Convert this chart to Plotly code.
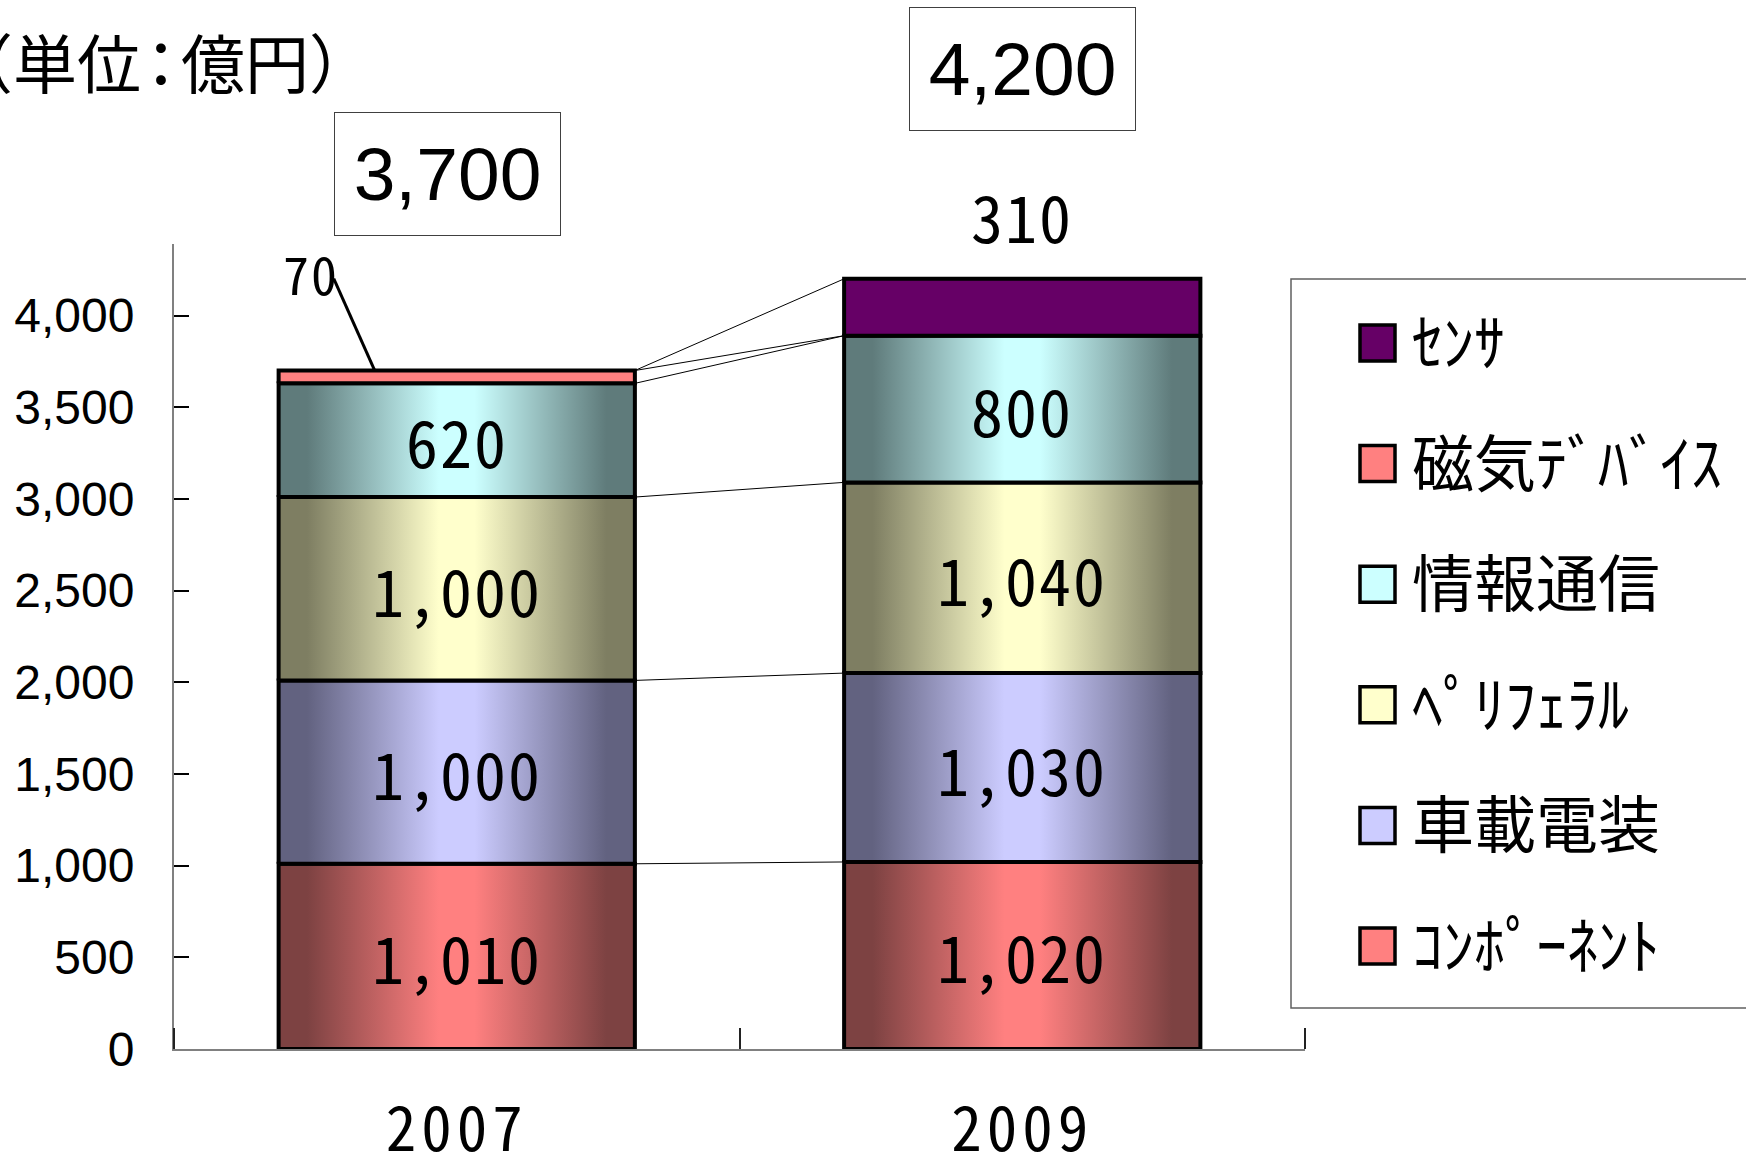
import plotly.graph_objects as go

# ---------------- data ----------------
categories = ["2007", "2009"]
series_names = ["ｺﾝﾎﾟｰﾈﾝﾄ", "車載電装", "ﾍﾟﾘﾌｪﾗﾙ", "情報通信", "磁気ﾃﾞﾊﾞｲｽ", "ｾﾝｻ"]
values_2007 = [1010, 1000, 1000, 620, 70, 0]
values_2009 = [1020, 1030, 1040, 800, 0, 310]
totals = [3700, 4200]
y_tick_values = [0, 500, 1000, 1500, 2000, 2500, 3000, 3500, 4000]
unit_parts = ["（単", "位：", "億円）"]

# ---------------- styles ----------------
light_colors = ["#FF8080", "#CCCCFF", "#FFFFCC", "#CCFFFF", "#FF8080", "#660066"]
dark_colors = ["#7D4242", "#626280", "#7E7E62", "#5F7B7B", None, None]
BAR_W = 0.63
W, H = 1746, 1161
L, R, T, B = 174, 1305, 244, 1049
MONO = "Noto Sans Mono CJK JP, Noto Sans CJK JP, DejaVu Sans Mono, monospace"
CJK = "Noto Sans CJK JP, sans-serif"
SANS = "Liberation Sans, Arial, sans-serif"


def px_x(px):
    return (px - L) / (R - L)


def px_y(py):
    return (B - py) / (B - T)


def spaced(txt, sp=2):
    return f'<span style="letter-spacing:{sp}px">{txt}</span>'


values = [values_2007, values_2009]
fig = go.Figure()

# series lines (connectors between stacked tops)
for si in range(len(series_names)):
    top_a = sum(values[0][: si + 1])
    top_b = sum(values[1][: si + 1])
    fig.add_trace(go.Scatter(
        x=[0 + BAR_W / 2, 1 - BAR_W / 2], y=[top_a, top_b], mode="lines",
        line=dict(color="black", width=1), hoverinfo="skip", showlegend=False))

# stacked segments
for ci, vals in enumerate(values):
    base = 0
    for si, v in enumerate(vals):
        if v > 0:
            x0, x1 = ci - BAR_W / 2, ci + BAR_W / 2
            kw = {}
            if dark_colors[si]:
                d, lc = dark_colors[si], light_colors[si]
                kw["fillgradient"] = dict(
                    type="horizontal",
                    colorscale=[[0, d], [0.08, d], [0.45, lc], [0.55, lc], [0.92, d], [1, d]])
            else:
                kw["fillcolor"] = light_colors[si]
            fig.add_trace(go.Scatter(
                x=[x0, x1, x1, x0, x0], y=[base, base, base + v, base + v, base],
                mode="lines", fill="toself", line=dict(color="black", width=4),
                name=series_names[si], hoverinfo="skip", showlegend=False, **kw))
            if v >= 500:
                fig.add_annotation(x=ci, y=base + v / 2, text=spaced(f"{v:,}"), showarrow=False,
                                   font=dict(family=MONO, size=64, color="black"))
        base += v

# small-value labels
head_x = 0 - BAR_W / 2 + 0.17
fig.add_annotation(x=head_x, y=sum(values_2007), text=spaced(f"{values_2007[4]:,}"),
                   showarrow=False, xshift=-64, yshift=98,
                   font=dict(family=MONO, size=52, color="black"))
fig.add_shape(type="line", xref="x", yref="y", xsizemode="pixel", ysizemode="pixel",
              xanchor=head_x, yanchor=sum(values_2007), x0=-41, x1=0, y0=92, y1=0,
              line=dict(color="black", width=3))
fig.add_annotation(x=1, y=sum(values_2009), text=spaced(f"{values_2009[5]:,}"), showarrow=False,
                   yshift=64, font=dict(family=MONO, size=64, color="black"))

# totals in boxes
total_xshift = [-9, 0]
total_yshift = [197, 210]
for ci, tot in enumerate(totals):
    fig.add_annotation(x=ci, y=tot, text=f"{tot:,}", showarrow=False,
                       xshift=total_xshift[ci], yshift=total_yshift[ci],
                       width=223, height=120, borderpad=1, bordercolor="#404040", borderwidth=1,
                       bgcolor="white", font=dict(family=SANS, size=75, color="black"))

# unit label (tightened spacing around the colon)
unit_text = (unit_parts[0] + f'<span style="letter-spacing:-12px">{unit_parts[1]}</span>'
             + unit_parts[2])
fig.add_annotation(xref="paper", yref="paper", x=px_x(-53), y=px_y(60), xanchor="left",
                   yanchor="middle", text=unit_text, showarrow=False,
                   font=dict(family=CJK, size=64, color="black"))

# manual legend
fig.add_shape(type="rect", xref="paper", yref="paper", x0=px_x(1291), x1=px_x(1770),
              y0=px_y(1008), y1=px_y(279), line=dict(color="#606060", width=1.5),
              fillcolor="rgba(0,0,0,0)")
order = list(range(len(series_names)))[::-1]
for k, si in enumerate(order):
    cy = 343 + k * 120.6
    fig.add_shape(type="rect", xref="paper", yref="paper", x0=px_x(1360), x1=px_x(1395),
                  y0=px_y(cy + 18), y1=px_y(cy - 18), line=dict(color="black", width=3.5),
                  fillcolor=light_colors[si])
    fig.add_annotation(xref="paper", yref="paper", x=px_x(1410), y=px_y(cy - 4), xanchor="left",
                       yanchor="middle", text=series_names[si], showarrow=False,
                       font=dict(family=CJK, size=62, color="black"))

fig.update_layout(
    width=W, height=H, autosize=False,
    margin=dict(l=L, r=W - R, t=T, b=H - B, pad=0),
    plot_bgcolor="white", paper_bgcolor="white", showlegend=False,
    xaxis=dict(range=[-0.5, 1.5], tickmode="array", tickvals=[0, 1],
               ticktext=[spaced(c, 5) for c in categories], automargin=False,
               ticks="", showline=True, linecolor="#808080", linewidth=2, showgrid=False,
               zeroline=False, ticklabelstandoff=27,
               tickfont=dict(family=MONO, size=61, color="black"),
               minor=dict(tickmode="array", tickvals=[-0.5, 0.5, 1.5], ticks="inside",
                          ticklen=21, tickwidth=2, tickcolor="#222222", showgrid=False)),
    yaxis=dict(range=[0, 4390], tickmode="array", tickvals=y_tick_values,
               ticktext=[f"{v:,}" for v in y_tick_values], ticks="inside", ticklen=15,
               tickwidth=2, tickcolor="black", showline=True, linecolor="#808080",
               linewidth=2, showgrid=False, zeroline=False, ticklabelstandoff=28,
               automargin=False, tickfont=dict(family=SANS, size=48, color="black")),
)

fig.write_html("out.html", config={"displayModeBar": False},
               post_script="document.body.style.margin='0px';")
